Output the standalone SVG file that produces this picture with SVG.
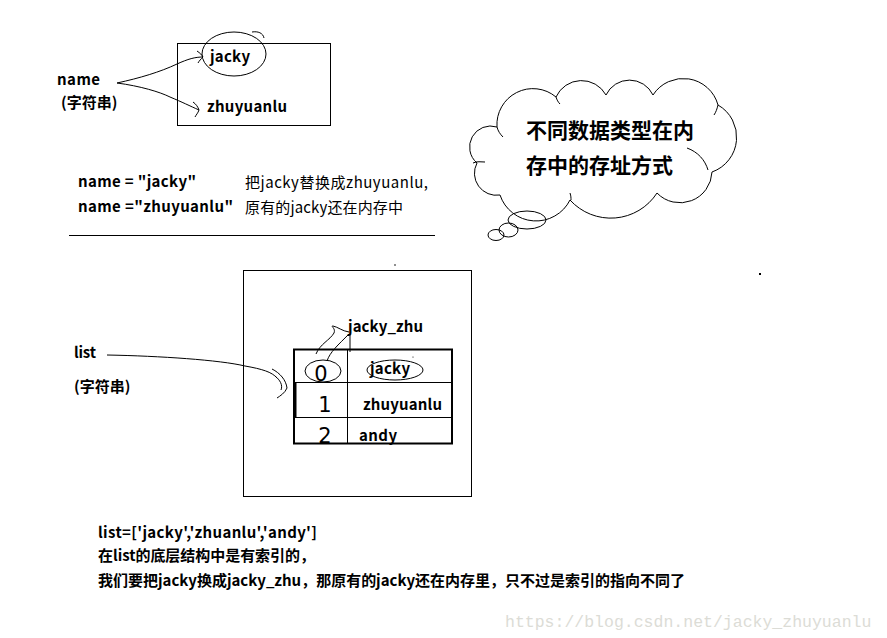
<svg xmlns="http://www.w3.org/2000/svg" width="887" height="638" viewBox="0 0 887 638">
<style>
.t{font-family:"Noto Sans CJK SC","Liberation Sans",sans-serif;font-size:14px;fill:#000}
.m{font-size:15px}
.c{font-size:21px}
.b{font-weight:bold}
.ln{fill:none;stroke:#000;stroke-width:1}
.hw{font-family:"DejaVu Sans",sans-serif;font-size:21px;fill:#000;text-anchor:middle;font-weight:normal}
</style>
<rect width="887" height="638" fill="#fff"/>

<g id="name-label">
<text class="t b m" x="57" y="85" textLength="43">name</text>
<text class="t b m" x="61" y="108">(字符串)</text>
</g>

<g id="name-box">
<rect x="177.5" y="43.5" width="153" height="82" class="ln"/>
<text class="t b m" x="210" y="62" textLength="40">jacky</text>
<text class="t b m" x="207" y="112" textLength="80">zhuyuanlu</text>
<ellipse cx="234" cy="54" rx="32" ry="22" class="ln"/>
<path d="M252,32 C258,31 263,33 264,38" class="ln"/>
</g>

<g id="connectors">
<path d="M117,83 C140,78 160,72 177,64 C188,59 195,57 203,57" class="ln"/>
<path d="M197,51 C200,53 202,55 203,57 C201,59 199,61 198,63" class="ln"/>
<path d="M117,83 C140,86 160,92 170,97 C182,102 190,106 199,110" class="ln"/>
<path d="M193,102 C196,104 198,107 199,110 C198,113 196,115 195,117" class="ln"/>
<path d="M107,355 C160,356 220,360 245,366 C262,369 272,372 277,378" class="ln"/>
<path d="M272,369 C280,373 286,380 287,388 C285,393 280,396 277,398" class="ln"/>
<path d="M275,376 C280,380 283,385 281,390" class="ln"/>
<path d="M316,354 C320,344 330,340 334,333 C336,328 330,326 333,326 C338,327 342,331 349,332" class="ln"/>
<path d="M327,361 C330,352 338,345 349,334" class="ln"/>
<path d="M350,334 L350,352" class="ln"/>
</g>

<g id="code-notes">
<text class="t b m" x="78" y="187" textLength="118">name = "jacky"</text>
<text class="t b m" x="78" y="212" textLength="155">name ="zhuyuanlu"</text>
<text class="t m" x="245" y="188" textLength="183">把jacky替换成zhuyuanlu,</text>
<text class="t m" x="245" y="213" textLength="158">原有的jacky还在内存中</text>
<line x1="69" y1="235.5" x2="435" y2="235.5" class="ln"/>
</g>

<g id="cloud">
<path d="M497,127 A36,36 0 0 1 556,97 A28,28 0 0 1 606,95 A26,26 0 0 1 653,95 A36,36 0 0 1 718,105 A37,37 0 0 1 712,172 A32,32 0 0 1 657,193 A55,55 0 0 1 570,200 A38,38 0 0 1 500,195 A22,22 0 0 1 477,163 A21,21 0 0 1 497,127 Z" fill="#fff" stroke="#000" stroke-width="1"/>
<path d="M473,163 C477,161 481,162 485,162" class="ln"/>
<path d="M687,148 C698,152 705,160 708,170" class="ln"/>
<path d="M570,193 C571,196 571,198 571,200" class="ln"/>
<path d="M556,97 C557,100 558,102 560,104" class="ln"/>
<path d="M497,127 C498,131 500,134 503,137" class="ln"/>
<path d="M718,105 C717,109 716,112 714,115" class="ln"/>
<text class="t b c" x="526" y="138">不同数据类型在内</text>
<text class="t b c" x="526" y="173">存中的存址方式</text>
<ellipse cx="527" cy="220" rx="19" ry="9" class="ln" fill="#fff"/>
<ellipse cx="508.5" cy="230" rx="9.5" ry="7" class="ln" fill="#fff"/>
<ellipse cx="496" cy="235" rx="8" ry="5.5" class="ln" fill="#fff"/>
</g>

<g id="list-label">
<text class="t b m" x="74" y="358" textLength="22">list</text>
<text class="t b m" x="74" y="392">(字符串)</text>
</g>

<g id="list-box">
<rect x="243.5" y="270.5" width="228" height="226" class="ln"/>
</g>

<g id="list-table">
<rect x="294" y="349.5" width="158" height="94" fill="none" stroke="#000" stroke-width="2"/>
<line x1="295" y1="382" x2="295" y2="417" stroke="#000" stroke-width="3"/>
<line x1="347.5" y1="350" x2="347.5" y2="444" class="ln"/>
<line x1="294" y1="382.5" x2="452" y2="382.5" class="ln"/>
<line x1="294" y1="417.5" x2="452" y2="417.5" class="ln"/>
<text class="hw" x="321" y="381">0</text>
<text class="hw" x="325" y="412">1</text>
<text class="hw" x="325" y="443">2</text>
<ellipse cx="323" cy="371" rx="18" ry="11" class="ln"/>
<text class="t b m" x="370" y="374" textLength="40">jacky</text>
<ellipse cx="395" cy="370" rx="28" ry="10" class="ln"/>
<text class="t b m" x="363" y="410" textLength="79">zhuyuanlu</text>
<text class="t b m" x="359" y="441" textLength="38">andy</text>
<text class="t b m" x="348" y="332" textLength="75">jacky_zhu</text>
<circle cx="413" cy="357" r="0.6" fill="#000"/>
</g>

<g id="bottom-notes">
<text class="t b m" x="98" y="538" textLength="219">list=['jacky','zhuanlu','andy']</text>
<text class="t b m" x="98" y="561" textLength="217">在list的底层结构中是有索引的，</text>
<text class="t b m" x="98" y="586" textLength="587">我们要把jacky换成jacky_zhu，那原有的jacky还在内存里，只不过是索引的指向不同了</text>
</g>

<g id="marks">
<circle cx="395" cy="265" r="0.8" fill="#000"/>
<rect x="759" y="273" width="2" height="2" fill="#000"/>
</g>

<text x="505" y="627" font-family="Liberation Mono, monospace" font-size="16.5" fill="#dcdcd6">https://blog.csdn.net/jacky_zhuyuanlu</text>
</svg>
